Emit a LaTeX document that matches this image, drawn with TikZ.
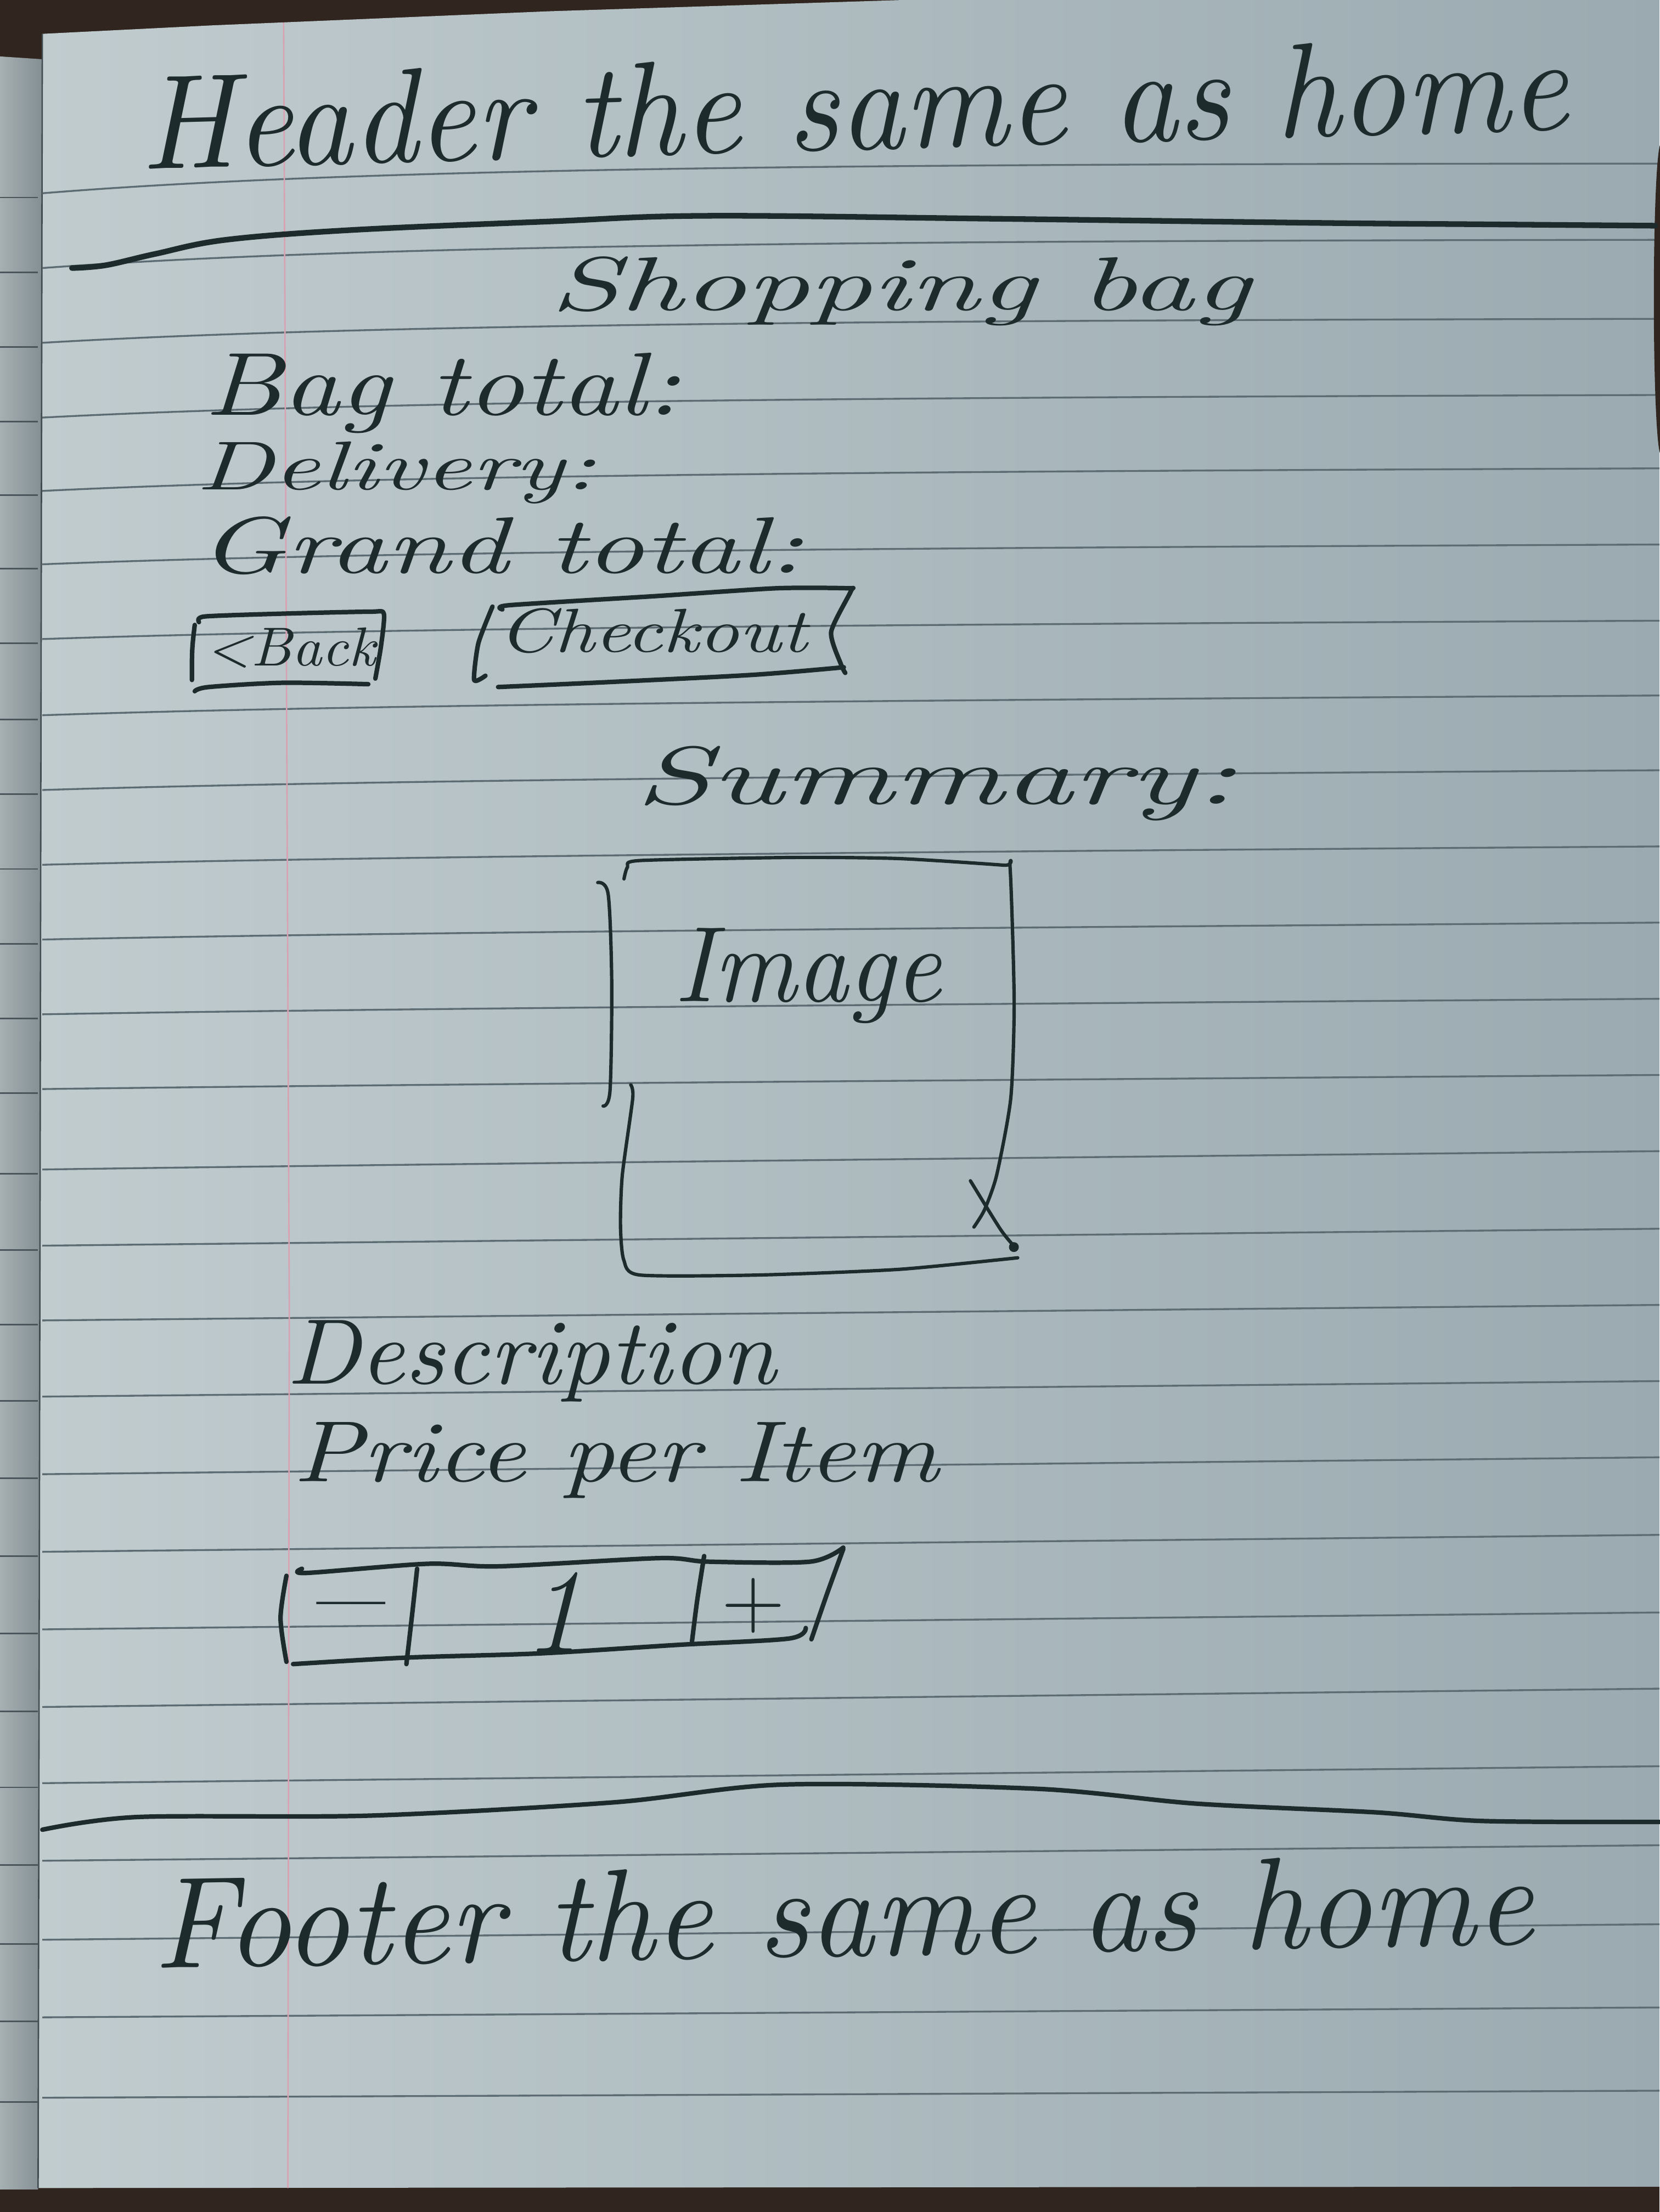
\documentclass[tikz,border=0pt]{standalone}
\usepackage{fontspec}
\usepackage{graphicx}
\definecolor{inkc}{HTML}{1E2B2C}
\definecolor{rulec}{HTML}{5C6C72}
\definecolor{bgdark}{HTML}{30261F}
\definecolor{paperL}{HTML}{C1CCCF}
\definecolor{paperR}{HTML}{9AAAB0}
\definecolor{stripL}{HTML}{A6B0B3}
\definecolor{stripR}{HTML}{848F93}
\definecolor{marginc}{HTML}{D8A2B2}
% handwritten-looking label: width, height (pt), text
\newcommand{\handtext}[3]{\resizebox{#1pt}{#2pt}{\itshape #3}}
\begin{document}
\begin{tikzpicture}[x=1pt,y=-1pt,
  ink/.style={draw=inkc, line width=3.2pt, line cap=round, line join=round},
  thinink/.style={draw=inkc, line width=2.4pt, line cap=round, line join=round},
  rule/.style={draw=rulec, line width=1.3pt},
  striprule/.style={draw=rulec!80!black, line width=1.1pt},
  hand/.style={inner sep=0pt, outer sep=0pt, anchor=base west, text=inkc},
  glyph/.style={inner sep=0pt, outer sep=0pt, text=inkc},
]
\useasboundingbox (0,0) rectangle (1176,1568);
% table and shadows
\fill[bgdark] (0,0) rectangle (1176,1568);
% edges of the pages underneath
\shade[left color=stripL, right color=stripR] (0,40) -- (30,42) -- (27,1552) -- (0,1552) -- cycle;
% the page itself
\shade[left color=paperL, right color=paperR]
  (30,24) -- (150,18) -- (389,8) -- (640,0) -- (1176,0) -- (1176,1550) -- (27,1551) -- cycle;
\draw[draw=rulec!70!black, line width=1pt] (30,24) -- (27,1551);
% ruled lines
\foreach \i/\L/\R in {0/137/116, 1/190/170, 2/243/226, 3/296/280, 4/348/332,
    5/400/386, 6/453/440, 7/507/493, 8/560/546, 9/613/600, 10/666/654,
    11/719/708, 12/772/762, 13/829/816, 14/883/871, 15/936/925, 16/990/979,
    17/1045/1033, 18/1100/1088, 19/1155/1143, 20/1210/1197, 21/1264/1252,
    22/1319/1308, 23/1375/1364, 24/1430/1423, 25/1487/1482} {
  \pgfmathsetmacro{\k}{min(1,\i/14)}
  \pgfmathsetmacro{\D}{\L-\R}
  \pgfmathsetmacro{\ya}{\R+\D*(0.15+0.65*\k)}
  \pgfmathsetmacro{\yb}{\R+\D*0.5*\k}
  \draw[rule] (30,\L) .. controls (250,\ya) and (600,\yb) .. (1176,\R);
  \draw[striprule] (0,\L+3) -- (27,\L+3);
}
% margin line
\draw[draw=marginc, line width=1pt] (201,16) -- (205,930) -- (204,1551);
% dark smudge at the right edge
\fill[bgdark] (1177,212) ellipse [x radius=5, y radius=110];

% header
\node[hand, rotate=1.6] (hdr) at (100,120) {\handtext{1012}{66}{Header the same as home}};
\draw[ink, line width=4pt] plot[smooth, tension=0.6] coordinates {(51,190) (75,188) (110,180) (160,170) (250,163)
  (389,157) (499,153) (700,155) (933,158) (1050,159) (1173,160)};

% totals
\node[hand] (shop) at (390,220) {\handtext{496}{38}{Shopping bag}};
\node[hand] (bagtot) at (145,294) {\handtext{337}{44}{Bag total:}};
\node[hand] (deliv) at (139,347) {\handtext{283}{34}{Delivery:}};
\node[hand] (grand) at (141,406) {\handtext{428}{40}{Grand total:}};

% back button
\node[hand] (backlbl) at (146,472) {\handtext{120}{27}{<Back}};
\draw[ink] plot[smooth, tension=0.4] coordinates {(141,441) (145,437) (200,435) (262,433.6) (272,435) (270,458) (266,481)};
\draw[ink] plot[smooth] coordinates {(138,490) (148,487) (200,484) (261,485)};
\draw[ink] (138,443) .. controls (136,460) .. (136,482);

% checkout button
\node[hand] (chklbl) at (353,462) {\handtext{219}{31}{Checkout}};
\draw[ink] plot[smooth, tension=0.4] coordinates {(356,432) (361,429) (464,422.6) (550,417) (601,417) (603,419) (589,448) (596,471) (599,477)};
\draw[ink] plot[smooth] coordinates {(598,473) (533,478.4) (429,483.6) (353,487)};
\draw[ink] plot[smooth, tension=0.4] coordinates {(349,430) (339,456) (336,482) (344,479)};

% summary with image placeholder
\node[hand] (summ) at (450,570) {\handtext{426}{41}{Summary:}};
\draw[thinink] plot[smooth] coordinates {(423.6,625.6) (431,634) (433.5,696.5) (432.3,773) (427.4,784)};
\draw[thinink] plot[smooth, tension=0.4] coordinates {(442.2,623) (444.7,614.7) (453.4,610) (562.5,607.8)
  (637,608.6) (711.3,613.3) (715.8,615) (718.7,710) (716.3,778.4) (706.3,833) (697.7,857.5) (690.2,869.8)};
\draw[thinink] plot[smooth, tension=0.4] coordinates {(721.2,891.6) (636.9,899.8) (537.7,903.8) (453.4,903.8)
  (442,893) (439.7,868.4) (441,833) (448.4,778.4) (447,769)};
\draw[thinink] plot[smooth] coordinates {(687.7,837) (708.8,871.1) (718.7,883.4)};
\fill[inkc] (718.5,884) circle (3.5);
\node[hand] (imglbl) at (478,710) {\handtext{189}{52}{Image}};

% item details
\node[hand] (desc) at (203,981) {\handtext{347}{45}{Description}};
\node[hand] (price) at (208,1050) {\handtext{457}{42}{Price per Item}};

% quantity selector
\draw[ink] plot[smooth, tension=0.5] coordinates {(214,1112) (217,1115) (303,1108.5) (353.5,1110.3)
  (466.7,1104.5) (502,1107) (574,1107) (597.6,1097)};
\draw[ink] plot[smooth] coordinates {(597.6,1098) (586,1130) (575,1162)};
\draw[ink] plot[smooth, tension=0.5] coordinates {(571,1154) (559,1161.5) (480,1166) (383,1172) (288,1175) (207.7,1179.6)};
\draw[ink] plot[smooth] coordinates {(203,1117) (198.8,1147) (203,1178)};
\draw[ink] plot[smooth] coordinates {(295.6,1112) (292,1145) (288,1179.6)};
\draw[ink] plot[smooth] coordinates {(499,1103) (494,1135) (490.4,1163.5)};
\node[glyph, anchor=center] (minus) at (249,1150) {\fontsize{104}{110}\selectfont\textendash};
\node[glyph, anchor=base] (qty) at (392,1171) {\fontsize{85}{90}\selectfont\itshape 1};
\node[glyph, anchor=center] (plus) at (534,1138) {\fontsize{62}{66}\selectfont +};

% footer
\draw[ink] plot[smooth] coordinates {(30,1297) (97.5,1288) (262.5,1287) (435,1277.6) (555,1265)
  (735,1268) (847.5,1278.5) (975,1284.7) (1050,1290.8) (1176,1291.5)};
\node[hand, rotate=1.0] (ftr) at (109,1395) {\handtext{978}{64}{Footer the same as home}};
\end{tikzpicture}
\end{document}
